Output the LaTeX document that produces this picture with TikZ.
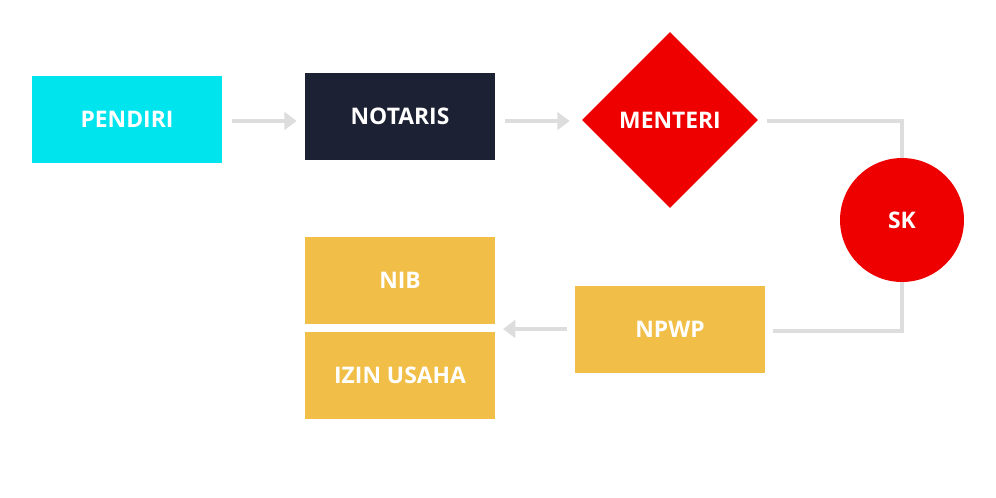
\documentclass[tikz,border=0pt]{standalone}
\usepackage{fontspec}
\setmainfont{Open Sans}
\usetikzlibrary{arrows.meta,shapes.geometric}
\definecolor{pcyan}{HTML}{00E4EE}
\definecolor{pdark}{HTML}{1C2233}
\definecolor{pred}{HTML}{EE0000}
\definecolor{pyellow}{HTML}{F1BF47}
\definecolor{pgray}{HTML}{DDDDDD}
\tikzset{
  box/.style={minimum width=3.8cm, minimum height=1.74cm, text=white, font=\bfseries\fontsize{13}{15}\selectfont},
  flow/.style={pgray, line width=2.8pt, -{Triangle[length=7pt,width=10pt]}},
  link/.style={pgray, line width=2.8pt}
}
\begin{document}
\begin{tikzpicture}[x=0.02cm,y=-0.02cm]
  \useasboundingbox (0,0) rectangle (996,497);
  \node[box, fill=pcyan] (pendiri) at (127,119.5) {PENDIRI};
  \node[box, fill=pdark] (notaris) at (400,116.5) {NOTARIS};
  \node[box, fill=pred, diamond, minimum width=3.52cm, minimum height=3.52cm, inner sep=0pt] (menteri) at (670,120) {MENTERI};
  \node[box, fill=pred, circle, minimum width=2.48cm, minimum height=2.48cm] (sk) at (902,220) {SK};
  \node[box, fill=pyellow] (npwp) at (670,329.5) {NPWP};
  \node[box, fill=pyellow] (nib) at (400,280.5) {NIB};
  \node[box, fill=pyellow] (izin) at (400,375.5) {IZIN USAHA};
  \coordinate (c1) at (902,121);
  \coordinate (c2) at (902,331);
  % arrows
  \draw[flow] ([xshift=0.2cm]pendiri.east |- 0,121) -- ([xshift=-0.16cm]notaris.west |- 0,121);
  \draw[flow] ([xshift=0.2cm]notaris.east |- 0,121) -- ([xshift=-0.24cm]menteri.west |- 0,121);
  \draw[link] (767,121) -- (c1) -- (sk.north);
  \draw[link] (sk.south) -- (c2) -- (773,331);
  \draw[flow] (567,329) -- (503,329);
\end{tikzpicture}
\end{document}
